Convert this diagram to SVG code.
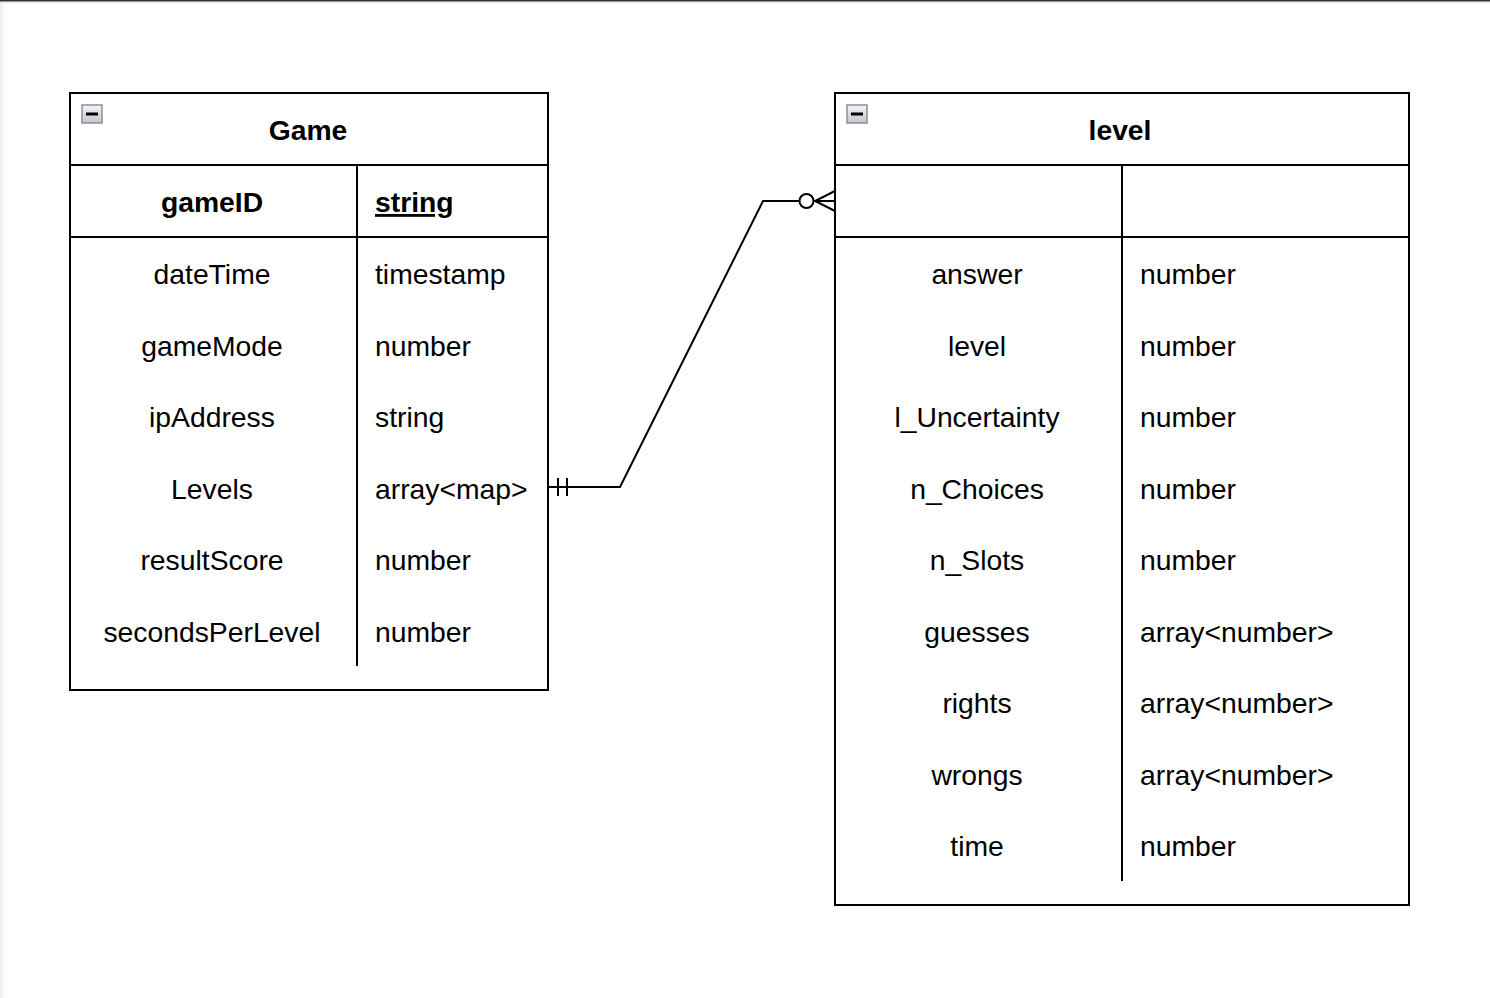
<svg xmlns="http://www.w3.org/2000/svg" width="1490" height="998" viewBox="0 0 1490 998">
<style>
.box{fill:#fff;stroke:#000;stroke-width:2}
.ln{stroke:#000;stroke-width:2;fill:none}
text{font-family:"Liberation Sans",Arial,Helvetica,sans-serif;font-size:28.3px;fill:#000}
.c{text-anchor:middle}
.b{font-weight:bold}
.u{text-decoration:underline}
.icon{fill:url(#ig);stroke:#8a8f9c;stroke-width:1.5}
</style>
<defs>
<linearGradient id="ig" x1="0" y1="0" x2="0" y2="1">
<stop offset="0" stop-color="#f2f3f5"/>
<stop offset="1" stop-color="#c3c6ce"/>
</linearGradient>
</defs>
<rect width="1490" height="998" fill="#fff"/>
<rect x="0" y="0" width="1490" height="4" fill="#f0f0f0"/>
<rect x="0" y="0" width="3" height="998" fill="#f0f0f0"/>
<rect x="0" y="0" width="1490" height="1.5" fill="#333"/>

<g id="game">
<rect class="box" x="70" y="93" width="478" height="597"/>
<line class="ln" x1="70" y1="165" x2="548" y2="165"/>
<line class="ln" x1="70" y1="237" x2="548" y2="237"/>
<line class="ln" x1="357" y1="165" x2="357" y2="666"/>
<rect class="icon" x="82" y="105" width="20" height="18"/>
<rect x="86" y="112.5" width="12" height="3" fill="#000"/>
<text class="c b" x="308" y="140">Game</text>
<text class="c b" x="212" y="212">gameID</text>
<text class="b u" x="375" y="212">string</text>
<text class="c" x="212" y="284">dateTime</text><text x="375" y="284">timestamp</text>
<text class="c" x="212" y="355.5">gameMode</text><text x="375" y="355.5">number</text>
<text class="c" x="212" y="427">ipAddress</text><text x="375" y="427">string</text>
<text class="c" x="212" y="498.5">Levels</text><text x="375" y="498.5">array&lt;map&gt;</text>
<text class="c" x="212" y="570">resultScore</text><text x="375" y="570">number</text>
<text class="c" x="212" y="641.5">secondsPerLevel</text><text x="375" y="641.5">number</text>
</g>

<g id="level">
<rect class="box" x="835" y="93" width="574" height="812"/>
<line class="ln" x1="835" y1="165" x2="1409" y2="165"/>
<line class="ln" x1="835" y1="237" x2="1409" y2="237"/>
<line class="ln" x1="1122" y1="165" x2="1122" y2="881"/>
<rect class="icon" x="847" y="105" width="20" height="18"/>
<rect x="851" y="112.5" width="12" height="3" fill="#000"/>
<text class="c b" x="1120" y="140">level</text>
<text class="c" x="977" y="284">answer</text><text x="1140" y="284">number</text>
<text class="c" x="977" y="355.5">level</text><text x="1140" y="355.5">number</text>
<text class="c" x="977" y="427">l_Uncertainty</text><text x="1140" y="427">number</text>
<text class="c" x="977" y="498.5">n_Choices</text><text x="1140" y="498.5">number</text>
<text class="c" x="977" y="570">n_Slots</text><text x="1140" y="570">number</text>
<text class="c" x="977" y="641.5">guesses</text><text x="1140" y="641.5">array&lt;number&gt;</text>
<text class="c" x="977" y="713">rights</text><text x="1140" y="713">array&lt;number&gt;</text>
<text class="c" x="977" y="784.5">wrongs</text><text x="1140" y="784.5">array&lt;number&gt;</text>
<text class="c" x="977" y="856">time</text><text x="1140" y="856">number</text>
</g>

<g id="connectors">
<polyline class="ln" points="548,487 620,487 763,201 799,201"/>
<line class="ln" x1="558" y1="478" x2="558" y2="496"/>
<line class="ln" x1="567" y1="478" x2="567" y2="496"/>
<circle class="ln" cx="806.5" cy="201" r="7" fill="#fff"/>
<line class="ln" x1="814" y1="201" x2="835" y2="201"/>
<polyline class="ln" points="835,191 815,201 835,211"/>
</g>
</svg>
